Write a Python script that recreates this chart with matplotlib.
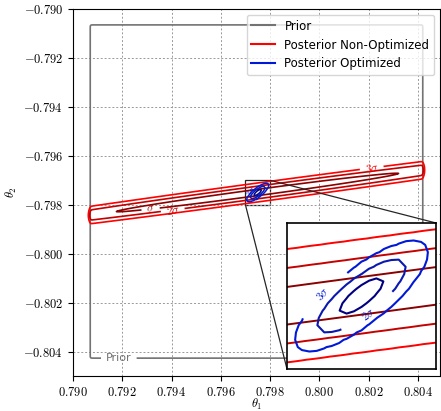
import numpy as np
import matplotlib.pyplot as plt
from matplotlib.lines import Line2D
from matplotlib.ticker import FuncFormatter
from mpl_toolkits.axes_grid1.inset_locator import mark_inset

plt.rcParams['mathtext.fontset'] = 'cm'

# uniform prior box (theta1, theta2)
prior_lo = [0.7907, -0.80427]
prior_hi = [0.8042, -0.79065]
prior_edge = 0.00002

# non-optimized posterior: elongated gaussian (major/minor std, slope of major axis)
mean_nonopt = [0.79749, -0.79750]
std_nonopt = [0.00578, 0.000128]
slope_nonopt = 0.136

# optimized posterior
mean_opt = [0.79750, -0.79750]
std_opt = [0.000148, 0.000125]
rho_opt = 0.8

sigma_levels = [3, 2, 1]
sigma_names = [r'$3\sigma$', r'$2\sigma$', r'$\sigma$']
red_colors = ['#ff0000', '#c40000', '#8b0000']
blue_colors = ['#0019d6', '#0a18b0', '#000080']

zoom_x = [0.7970, 0.7980]
zoom_y = [-0.7980, -0.7970]

red_label_pos = [(0.80213, -0.79650), (0.79315, -0.79817), (0.79405, -0.79822)]
blue_label_pos = [(0.79719, -0.79743), (0.79755, -0.79763)]
prior_label_pos = [(0.79186, -0.80427)]


def gaussian(X, Y, mean, cov):
    inv = np.linalg.inv(cov)
    dx = X - mean[0]
    dy = Y - mean[1]
    chi2 = inv[0, 0] * dx * dx + 2 * inv[0, 1] * dx * dy + inv[1, 1] * dy * dy
    return np.exp(-0.5 * chi2)


def step(z):
    return 0.5 * (1 + np.tanh(z / 2))


def box_prior(X, Y):
    return (step((X - prior_lo[0]) / prior_edge) * step((prior_hi[0] - X) / prior_edge)
            * step((Y - prior_lo[1]) / prior_edge) * step((prior_hi[1] - Y) / prior_edge))


ang = np.arctan(slope_nonopt)
rot = np.array([[np.cos(ang), -np.sin(ang)], [np.sin(ang), np.cos(ang)]])
cov_nonopt = rot @ np.diag(np.square(std_nonopt)) @ rot.T
cov_opt = np.array([[std_opt[0] ** 2, rho_opt * std_opt[0] * std_opt[1]],
                    [rho_opt * std_opt[0] * std_opt[1], std_opt[1] ** 2]])

xs = np.linspace(0.789, 0.806, 800)
ys = np.linspace(-0.806, -0.789, 800)
X, Y = np.meshgrid(xs, ys)
prior = box_prior(X, Y)
post_nonopt = gaussian(X, Y, mean_nonopt, cov_nonopt) * prior

bx = np.linspace(0.7965, 0.7985, 41)
by = np.linspace(-0.7985, -0.7965, 41)
BX, BY = np.meshgrid(bx, by)
post_opt = gaussian(BX, BY, mean_opt, cov_opt) * box_prior(BX, BY)

levels = [np.exp(-0.5 * k ** 2) for k in sigma_levels]
fmt = dict(zip(levels, sigma_names))

fig = plt.figure(figsize=(4.41, 4.11), dpi=100)
ax = fig.add_axes([73 / 441, 35 / 411, 367 / 441, 367 / 411])

cp = ax.contour(X, Y, prior, [0.5], colors='0.45', linewidths=1.2)
cr = ax.contour(X, Y, post_nonopt, levels, colors=red_colors, linewidths=1.2)
cb = ax.contour(BX, BY, post_opt, levels, colors=blue_colors, linewidths=1.1)
ax.set_xlim(0.790, 0.8049)
ax.set_ylim(-0.805, -0.790)
ax.clabel(cp, fmt={0.5: 'Prior'}, manual=prior_label_pos, fontsize=8)
ax.clabel(cr, fmt=fmt, manual=red_label_pos, fontsize=8)
ax.clabel(cb, fmt=fmt, manual=blue_label_pos, fontsize=6, inline=False)

ax.set_xticks(np.arange(0.790, 0.8041, 0.002))
ax.set_yticks(np.arange(-0.804, -0.7899, 0.002))
tick_fmt = FuncFormatter(lambda v, _: f'${v:.3f}$')
ax.xaxis.set_major_formatter(tick_fmt)
ax.yaxis.set_major_formatter(tick_fmt)
ax.tick_params(labelsize=9)
ax.grid(True, linestyle=(0, (2, 2)), color='0.6', linewidth=0.7)
ax.set_xlabel(r'$\theta_1$', fontsize=9, labelpad=-1)
ax.set_ylabel(r'$\theta_2$', fontsize=9, labelpad=3)

handles = [Line2D([], [], color='0.45', label='Prior'),
           Line2D([], [], color='red', label='Posterior Non-Optimized'),
           Line2D([], [], color='#0019d6', label='Posterior Optimized')]
ax.legend(handles=handles, loc='upper right', fontsize=8.5, handlelength=2.0)

# zoomed view of the central region
axins = fig.add_axes([287 / 441, 42 / 411, 149 / 441, 146 / 411])
axins.contour(X, Y, post_nonopt, levels, colors=red_colors, linewidths=1.4)
cbi = axins.contour(BX, BY, post_opt, levels, colors=blue_colors, linewidths=1.5)
axins.set_xlim(zoom_x)
axins.set_ylim(zoom_y)
axins.clabel(cbi, fmt=fmt, manual=blue_label_pos, fontsize=8, inline_spacing=25)
axins.set_xticks([])
axins.set_yticks([])
for sp in axins.spines.values():
    sp.set_linewidth(1.2)
mark_inset(ax, axins, loc1=1, loc2=3, fc='none', ec='0.15', lw=0.9)

fig.savefig('out.png', dpi=100)
